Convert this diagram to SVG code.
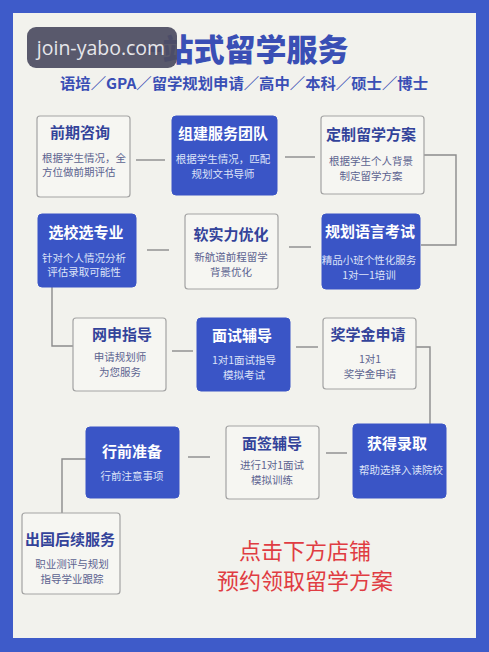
<svg xmlns="http://www.w3.org/2000/svg" width="489" height="652" viewBox="0 0 489 652">
<style>
text{font-family:"Noto Sans CJK SC","Noto Sans",sans-serif;text-anchor:middle}
.wb{fill:#f6f6f2;stroke:#a3a3a3;stroke-width:1.2}
.bb{fill:#3a55c6;stroke:#3a55c6;stroke-width:1}
.tw{font-size:15px;font-weight:700;fill:#33439a}
.tb{font-size:15px;font-weight:700;fill:#ffffff}
.sw{font-size:10.5px;fill:#5c6390}
.sb{font-size:10.5px;fill:#dde3f8}
.cn{fill:none;stroke:#8c8c8c;stroke-width:1.4}
</style>
<rect x="0" y="0" width="489" height="652" fill="#3e5bc9"/>
<rect x="13" y="13" width="463" height="625" fill="#f2f2ed"/>
<g id="title">
<text x="240" y="61" font-size="31" font-weight="900" fill="#3a4fb5" textLength="217" lengthAdjust="spacingAndGlyphs">一站式留学服务</text>
<text x="244" y="89" font-size="15" font-weight="700" fill="#3a4fb5" textLength="368" lengthAdjust="spacingAndGlyphs">语培／GPA／留学规划申请／高中／本科／硕士／博士</text>
</g>
<g id="watermark">
<rect x="27" y="27" width="150" height="41" rx="9" fill="#4e4e62" fill-opacity="0.93"/>
<text x="101" y="55" font-size="19.5" fill="#e6e6ea" style="font-family:'Open Sans',sans-serif">join-yabo.com</text>
</g>
<g id="connectors">
<line class="cn" x1="136" y1="160" x2="165" y2="160"/>
<line class="cn" x1="285" y1="157" x2="315" y2="157"/>
<polyline class="cn" points="424,155 456,155 456,245 421,245"/>
<line class="cn" x1="147" y1="250" x2="169" y2="250"/>
<line class="cn" x1="289" y1="247" x2="311" y2="247"/>
<polyline class="cn" points="52,287 52,346 73,346"/>
<line class="cn" x1="172" y1="351" x2="193" y2="351"/>
<line class="cn" x1="296" y1="347" x2="318" y2="347"/>
<polyline class="cn" points="416,347 430,347 430,424"/>
<line class="cn" x1="188" y1="457" x2="210" y2="457"/>
<line class="cn" x1="326" y1="453" x2="347" y2="453"/>
<polyline class="cn" points="86,459 62,459 62,513"/>
</g>
<g id="n1">
<rect class="wb" x="37" y="116" width="93" height="81" rx="3"/>
<text class="tw" x="80" y="138">前期咨询</text>
<text class="sw" x="42" y="162" style="text-anchor:start">根据学生情况，全</text>
<text class="sw" x="42" y="176" style="text-anchor:start">方位做前期评估</text>
</g>
<g id="n2">
<rect class="bb" x="172" y="116" width="105" height="79" rx="4"/>
<text class="tb" x="223" y="139">组建服务团队</text>
<text class="sb" x="223" y="163">根据学生情况，匹配</text>
<text class="sb" x="223" y="178">规划文书导师</text>
</g>
<g id="n3">
<rect class="wb" x="321" y="116" width="103" height="78" rx="3"/>
<text class="tw" x="371" y="140">定制留学方案</text>
<text class="sw" x="371" y="165">根据学生个人背景</text>
<text class="sw" x="371" y="180">制定留学方案</text>
</g>
<g id="n4">
<rect class="bb" x="38" y="214" width="98" height="73" rx="4"/>
<text class="tb" x="86" y="238">选校选专业</text>
<text class="sb" x="84" y="262">针对个人情况分析</text>
<text class="sb" x="84" y="276">评估录取可能性</text>
</g>
<g id="n5">
<rect class="wb" x="185" y="214" width="93" height="75" rx="3"/>
<text class="tw" x="231" y="240">软实力优化</text>
<text class="sw" x="231" y="261">新航道前程留学</text>
<text class="sw" x="231" y="276">背景优化</text>
</g>
<g id="n6">
<rect class="bb" x="322" y="214" width="98" height="75" rx="4"/>
<text class="tb" x="370" y="237">规划语言考试</text>
<text class="sb" x="369" y="264">精品小班个性化服务</text>
<text class="sb" x="369" y="279">1对一1培训</text>
</g>
<g id="n7">
<rect class="wb" x="73" y="318" width="93" height="73" rx="3"/>
<text class="tw" x="122" y="340">网申指导</text>
<text class="sw" x="120" y="361">申请规划师</text>
<text class="sw" x="120" y="376">为您服务</text>
</g>
<g id="n8">
<rect class="bb" x="197" y="318" width="93" height="73" rx="4"/>
<text class="tb" x="242" y="341">面试辅导</text>
<text class="sb" x="244" y="364">1对1面试指导</text>
<text class="sb" x="244" y="379">模拟考试</text>
</g>
<g id="n9">
<rect class="wb" x="323" y="318" width="93" height="71" rx="3"/>
<text class="tw" x="368" y="340">奖学金申请</text>
<text class="sw" x="370" y="363">1对1</text>
<text class="sw" x="370" y="378">奖学金申请</text>
</g>
<g id="n10">
<rect class="bb" x="86" y="427" width="93" height="71" rx="4"/>
<text class="tb" x="132" y="457">行前准备</text>
<text class="sb" x="132" y="480">行前注意事项</text>
</g>
<g id="n11">
<rect class="wb" x="226" y="426" width="93" height="73" rx="3"/>
<text class="tw" x="272" y="449">面签辅导</text>
<text class="sw" x="272" y="469">进行1对1面试</text>
<text class="sw" x="272" y="484">模拟训练</text>
</g>
<g id="n12">
<rect class="bb" x="353" y="424" width="93" height="74" rx="4"/>
<text class="tb" x="397" y="449">获得录取</text>
<text class="sb" x="401" y="474">帮助选择入读院校</text>
</g>
<g id="n13">
<rect class="wb" x="22" y="513" width="98" height="81" rx="3"/>
<text class="tw" x="70" y="545">出国后续服务</text>
<text class="sw" x="72" y="568">职业测评与规划</text>
<text class="sw" x="72" y="583">指导学业跟踪</text>
</g>
<g id="cta">
<text x="305" y="559" font-size="22" fill="#e03c42">点击下方店铺</text>
<text x="305" y="589" font-size="22" fill="#e03c42">预约领取留学方案</text>
</g>
</svg>
